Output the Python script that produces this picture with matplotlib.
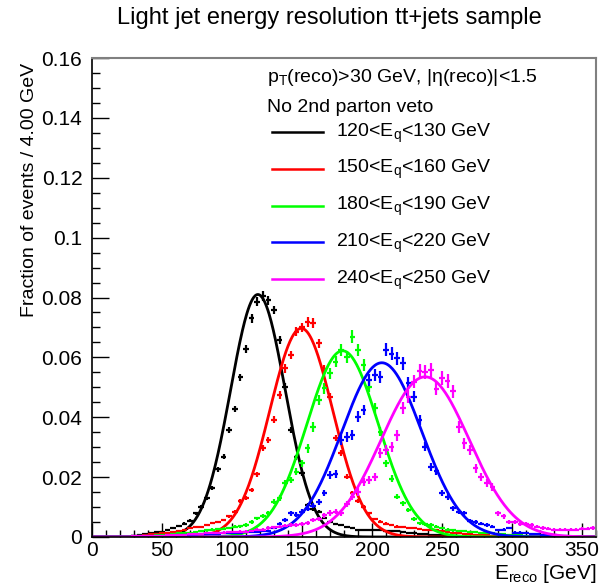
import matplotlib
matplotlib.use("Agg")
import matplotlib.pyplot as plt
import numpy as np
from matplotlib.lines import Line2D

plt.rcParams["font.family"] = ["Liberation Sans", "DejaVu Sans"]
plt.rcParams["mathtext.fontset"] = "custom"
plt.rcParams["mathtext.rm"] = "Liberation Sans"
plt.rcParams["mathtext.it"] = "Liberation Sans:italic"

# ---- data (fraction of events per 4 GeV bin) ----
BIN_WIDTH = 4.0
FIRST_BIN = 30.0   # centre of first listed bin, all series

labels = ["120<$\\mathregular{E_q}$<130 GeV", "150<$\\mathregular{E_q}$<160 GeV",
          "180<$\\mathregular{E_q}$<190 GeV", "210<$\\mathregular{E_q}$<220 GeV",
          "240<$\\mathregular{E_q}$<250 GeV"]
colors = ["#000000", "#ff0000", "#00ff00", "#0000ff", "#ff00ff"]

black = [.0005, .0008, .0010, .0012, .0016, .0018, .0023, .0030, .0037, .0045,
         .0055, .0079, .0100, .0129, .0163, .0226, .0268, .0357, .0427, .0533,
         .0627, .0730, .0786, .0805, .0790, .0758, .0658, .0502, .0357, .0266,
         .0213, .0107, .0092, .0085, .0065, .0050, .0042, .0040, .0035, .0030,
         .0025, .0025, .0023, .0023, .0022, .0020, .0020, .0020, .0018, .0015,
         .0012, .0010, .0010, .0008, .0008, .0006, .0005, .0004, .0004, .0003]
red = [.0005, .0005, .0008, .0010, .0010, .0012, .0015, .0018, .0020, .0025,
       .0029, .0032, .0034, .0040, .0046, .0050, .0057, .0070, .0085, .0120,
       .0130, .0157, .0210, .0296, .0324, .0391, .0474, .0563, .0608, .0686,
       .0700, .0719, .0714, .0647, .0560, .0469, .0330, .0280, .0201, .0146,
       .0120, .0101, .0079, .0060, .0051, .0045, .0040, .0035, .0032, .0030,
       .0030, .0028, .0025, .0025, .0022, .0020, .0018, .0015, .0012, .0010,
       .0010, .0008, .0007, .0006, .0005, .0005]
green = [.0003, .0004, .0005, .0005, .0006, .0007, .0008, .0010, .0012, .0013,
         .0015, .0017, .0020, .0022, .0025, .0026, .0028, .0030, .0034, .0036,
         .0040, .0050, .0062, .0070, .0079, .0118, .0130, .0179, .0190, .0218,
         .0246, .0296, .0368, .0458, .0497, .0547, .0586, .0625, .0602, .0669,
         .0625, .0574, .0502, .0430, .0352, .0246, .0195, .0135, .0113, .0090,
         .0060, .0046, .0042, .0040, .0035, .0030, .0025, .0022, .0020, .0020,
         .0018, .0016, .0015, .0014, .0012, .0010, .0010, .0008, .0007, .0006,
         .0005]
blue = [.0002, .0002, .0003, .0003, .0004, .0004, .0005, .0005, .0006, .0007,
        .0008, .0008, .0009, .0010, .0010, .0011, .0012, .0013, .0014, .0015,
        .0016, .0017, .0018, .0019, .0020, .0030, .0045, .0057, .0079, .0075,
        .0085, .0095, .0105, .0118, .0146, .0207, .0210, .0324, .0335, .0341,
        .0402, .0424, .0524, .0541, .0535, .0625, .0612, .0597, .0580, .0513,
        .0469, .0390, .0302, .0235, .0220, .0146, .0135, .0096, .0085, .0079,
        .0055, .0050, .0045, .0040, .0035, .0023, .0025, .0030, .0015, .0015,
        .0012, .0010, .0010, .0008, .0008, .0006, .0005, .0005]
magenta = [.0003, .0003, .0004, .0004, .0005, .0005, .0006, .0006, .0007, .0008,
           .0009, .0010, .0011, .0012, .0013, .0014, .0015, .0016, .0017, .0018,
           .0018, .0020, .0025, .0025, .0030, .0032, .0035, .0038, .0040, .0040,
           .0042, .0046, .0057, .0060, .0073, .0080, .0085, .0080, .0110, .0135,
           .0150, .0185, .0190, .0201, .0280, .0291, .0300, .0340, .0430, .0469,
           .0519, .0555, .0552, .0558, .0495, .0530, .0520, .0487, .0368, .0313,
           .0290, .0229, .0201, .0180, .0168, .0079, .0070, .0051, .0051, .0045,
           .0045, .0040, .0035, .0030, .0028, .0025, .0025, .0025, .0025, .0025,
           .0027, .0028, .0030]
series = [black, red, green, blue, magenta]

# effective number of events per sample (sets the Poisson error bars)
n_events = [35000, 28000, 15000, 13000, 10000]

# Gaussian fit results: amplitude, mean [GeV], sigma [GeV]
fit_amp = [0.0810, 0.0697, 0.0622, 0.0582, 0.0535]
fit_mean = [118.5, 149.5, 179.0, 207.0, 238.0]
fit_sigma = [19.5, 22.5, 25.5, 28.5, 31.5]

W, H = 606, 584
fig = plt.figure(figsize=(W / 100, H / 100), dpi=100)
ax = fig.add_axes([92 / W, 47 / H, 504 / W, 479 / H])

xf = np.linspace(0, 360, 721)
for vals, col, n, a, m, s in zip(series, colors, n_events, fit_amp, fit_mean, fit_sigma):
    y = np.array(vals)
    x = FIRST_BIN + BIN_WIDTH * np.arange(len(y))
    ax.errorbar(x, y, xerr=BIN_WIDTH / 2, yerr=np.sqrt(y / n), fmt="none",
                ecolor=col, elinewidth=1.6, capsize=0)
    ax.plot(xf, a * np.exp(-0.5 * ((xf - m) / s) ** 2), color=col, lw=2)

ax.set_xlim(0, 360)
ax.set_ylim(0, 0.16)
ax.set_xticks(np.arange(0, 351, 50))
ax.set_xticks(np.arange(0, 361, 10), minor=True)
ax.set_yticks(np.arange(0, 0.161, 0.02))
ax.set_yticks(np.arange(0, 0.161, 0.005), minor=True)
ax.set_yticklabels(["0", "0.02", "0.04", "0.06", "0.08", "0.1", "0.12", "0.14", "0.16"])
ax.tick_params(axis="both", which="both", direction="in", labelsize=15,
               top=False, right=False, width=1)
ax.tick_params(axis="x", which="major", length=10, pad=3)
ax.tick_params(axis="x", which="minor", length=5)
ax.tick_params(axis="y", which="major", length=12, pad=7)
ax.tick_params(axis="y", which="minor", length=6)
for side in ["left", "bottom"]:
    ax.spines[side].set_linewidth(1.2)
for side in ["top", "right"]:
    ax.spines[side].set_color("#808080")
    ax.spines[side].set_linewidth(1.5)

fig.text(329 / W, 1 - 18 / H, "Light jet energy resolution tt+jets sample",
         ha="center", va="center", fontsize=17)
fig.text(30 / W, 1 - 63 / H, "Fraction of events / 4.00 GeV", rotation=90,
         ha="center", va="top", fontsize=14)
fig.text(597 / W, 1 - 579 / H, "$\\mathregular{E_{reco}}$ [GeV]",
         ha="right", va="baseline", fontsize=15)

# legend block
fig.text(267 / W, 1 - 78 / H, "$\\mathregular{p_T}$(reco)>30 GeV, |\u03b7(reco)|<1.5",
         ha="left", va="center", fontsize=14)
fig.text(267 / W, 1 - 108 / H, "No 2nd parton veto", ha="left", va="center", fontsize=14)
for i, (lab, col) in enumerate(zip(labels, colors)):
    yy = 1 - (132 + 36.8 * i) / H
    fig.add_artist(Line2D([272 / W, 323 / W], [yy, yy], color=col, lw=1.8))
    fig.text(336 / W, yy - 1 / H, lab, ha="left", va="center", fontsize=14)

fig.savefig("out.png", dpi=100)
